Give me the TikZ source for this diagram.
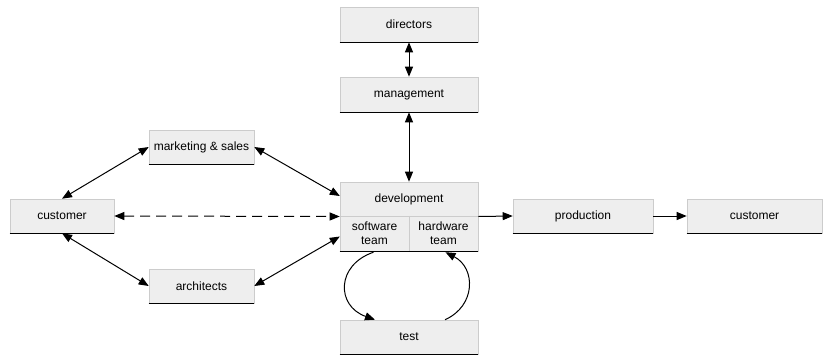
\documentclass[tikz,border=0pt]{standalone}
\usepackage{fontspec}
\setmainfont{Liberation Sans}
\usetikzlibrary{arrows.meta,calc}
\definecolor{boxfill}{HTML}{EEEEEE}
\definecolor{boxline}{HTML}{CCCCCC}
\begin{document}
\begin{tikzpicture}[x=1pt,y=-1pt,
  box/.style={rectangle, fill=boxfill, draw=boxline, line width=0.6pt, inner sep=0pt,
    font=\fontsize{12}{14}\selectfont, align=center},
  plain/.style={rectangle, inner sep=0pt, font=\fontsize{12}{14}\selectfont, align=center},
  conn/.style={line width=1pt, {Triangle[length=10pt,width=8pt]}-{Triangle[length=10pt,width=8pt]}},
  oneway/.style={line width=1pt, -{Triangle[length=10pt,width=8pt]}},
  bottomline/.style={line width=1.3pt, black}]
\useasboundingbox (0,0) rectangle (831,354);
% boxes
\node[box, minimum width=138pt, minimum height=35pt] (dir) at (409,24.5) {directors};
\node[box, minimum width=138pt, minimum height=35pt] (mgmt) at (409,94.5) {management};
\node[box, minimum width=138pt, minimum height=69pt] (dev) at (409,216.5) {};
\node[plain, minimum width=138pt, minimum height=34pt] (devt) at (409,199) {development};
\node[plain, minimum width=69pt, minimum height=35pt] (sw) at (374.5,233.5) {software\\team};
\node[plain, minimum width=69pt, minimum height=35pt] (hw) at (443.5,233.5) {hardware\\team};
\draw[boxline, line width=0.6pt] (dev.west |- devt.south) -- (dev.east |- devt.south);
\draw[boxline, line width=0.6pt] (sw.north east) -- (sw.south east);
\node[box, minimum width=138pt, minimum height=34pt] (test) at (409,337) {test};
\node[box, minimum width=105pt, minimum height=34pt] (mkt) at (201.5,147) {marketing \& sales};
\node[box, minimum width=104pt, minimum height=34pt] (custL) at (62,216) {customer};
\node[box, minimum width=105pt, minimum height=34pt] (arch) at (201.5,286) {architects};
\node[box, minimum width=140pt, minimum height=34pt] (prod) at (583,216) {production};
\node[box, minimum width=135pt, minimum height=34pt] (custR) at (754.5,216) {customer};
\foreach \n in {dir,mgmt,dev,test,mkt,custL,arch,prod,custR}
  \draw[bottomline] (\n.south west) -- (\n.south east);
% connectors
\draw[conn] (dir.south) -- (mgmt.north);
\draw[conn] (mgmt.south) -- (dev.north);
\draw[conn] (custL.north) -- (mkt.west);
\draw[conn] (mkt.east) -- ($(devt.west)+(0,-3)$);
\draw[conn, dash pattern=on 10pt off 6pt] (custL.east) -- (dev.west);
\draw[conn] (arch.east) -- ($(sw.west)+(0,3)$);
\draw[conn] (custL.south) -- (arch.west);
\draw[oneway] (dev.east) -- (prod.west);
\draw[oneway] (prod.east) -- (custR.west);
\coordinate (tl) at ($(test.north)+(-34,0)$);
\coordinate (tr) at ($(test.north)+(36,0)$);
\draw[oneway] ($(sw.south)+(-1,1)$) .. controls (336,265) and (336,306) .. (tl);
\draw[oneway] (tr) .. controls (476,306) and (476,268) .. ($(hw.south)+(2,1)$);
\end{tikzpicture}
\end{document}
